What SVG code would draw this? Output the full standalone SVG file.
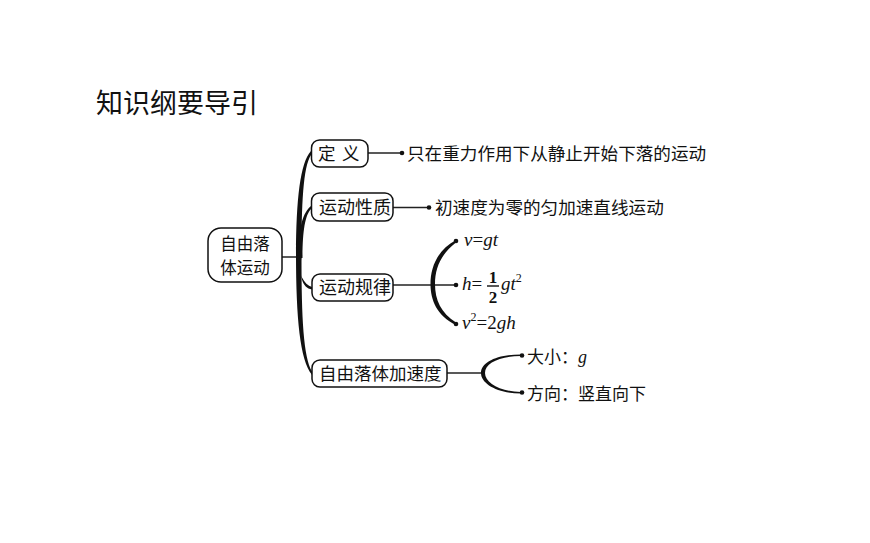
<svg xmlns="http://www.w3.org/2000/svg" width="870" height="543" viewBox="0 0 870 543">
<style>
.box{fill:#fff;stroke:#111;stroke-width:1.5}
.cn{font-family:"Noto Sans CJK SC","Noto Sans",sans-serif;fill:#111}
.m{font-family:"Liberation Serif",serif;font-style:italic;fill:#111}
.up{font-style:normal}
.ln{stroke:#222;stroke-width:1.5;fill:none}
.dot{fill:#111}
.br{fill:#111;stroke:none}
</style>
<rect width="870" height="543" fill="#fff"/>
<text x="96" y="113" class="cn" font-size="27">知识纲要导引</text>

<g id="connectors">
  <line class="ln" x1="282" y1="257" x2="298" y2="257"/>
  <path class="br" d="M296,260 C296,200 300,163 311,151 L311,155 C303,167 301.5,205 301.5,257 Z"/>
  <path class="br" d="M296,254 C296,318 300,360 312,375 L312,371.5 C303.5,357 301.5,318 301.5,257 Z"/>
  <path class="br" d="M298,258 C298,229 303,212 311,206 L311,209 C305,215 302.5,232 302.5,258 Z"/>
  <path class="br" d="M297,256 C298,273 304,285 312,287 L312,289.5 C302,288 299,276 301.5,256 Z"/>
  <line class="ln" x1="368" y1="153" x2="402" y2="153"/>
  <circle class="dot" cx="402" cy="153" r="2.3"/>
  <line class="ln" x1="393" y1="207.5" x2="429" y2="207.5"/>
  <circle class="dot" cx="429" cy="207.5" r="2.3"/>
  <line class="ln" x1="393" y1="285" x2="456" y2="285"/>
  <path class="br" d="M456,240 C437,250 430.5,268 430.5,284 C430.5,300 437,316 456,325 L456,322.5 C441,313 435,300 435,284 C435,268 441,254 456,242.5 Z"/>
  <circle class="dot" cx="456" cy="241" r="2.3"/>
  <circle class="dot" cx="456" cy="285" r="2.3"/>
  <circle class="dot" cx="456" cy="324" r="2.3"/>
  <line class="ln" x1="447" y1="373" x2="482" y2="373"/>
  <path class="br" d="M521,354.5 C498,354.5 481,362 481,373 C481,384 498,393.5 521,393.5 L521,392 C500,391.5 485,383 485,373 C485,363 500,356 521,356 Z"/>
  <circle class="dot" cx="522" cy="355.5" r="2.3"/>
  <circle class="dot" cx="522" cy="392.5" r="2.3"/>
</g>

<g id="root">
  <rect class="box" x="208" y="228" width="74" height="54" rx="13"/>
  <text class="cn" font-size="16.5" x="245" y="250" text-anchor="middle">自由落</text>
  <text class="cn" font-size="16.5" x="245" y="274" text-anchor="middle">体运动</text>
</g>

<g id="n-def">
  <rect class="box" x="311.5" y="140" width="56.5" height="27" rx="8"/>
  <text class="cn" font-size="17.5" y="160"><tspan x="318">定</tspan><tspan x="342">义</tspan></text>
</g>
<g id="def-text">
  <text class="cn" font-size="17.6" x="407" y="160">只在重力作用下从静止开始下落的运动</text>
</g>

<g id="n-nature">
  <rect class="box" x="311.5" y="193" width="81.5" height="28" rx="8"/>
  <text class="cn" font-size="18" x="319" y="214">运动性质</text>
</g>
<g id="nature-text">
  <text class="cn" font-size="17.6" x="435" y="214">初速度为零的匀加速直线运动</text>
</g>

<g id="n-law">
  <rect class="box" x="312" y="274" width="81" height="27" rx="8"/>
  <text class="cn" font-size="18" x="319" y="294">运动规律</text>
</g>
<g id="law-formulas">
  <text class="m" font-size="19" x="464" y="246">v<tspan class="up">=</tspan>gt</text>
  <text class="m" font-size="19" x="462" y="290">h<tspan class="up">=</tspan></text>
  <text class="m up" font-size="17" font-weight="bold" x="493" y="282.5" text-anchor="middle">1</text>
  <line x1="487" y1="286" x2="499" y2="286" stroke="#111" stroke-width="1.4"/>
  <text class="m up" font-size="17" font-weight="bold" x="493" y="302.5" text-anchor="middle">2</text>
  <text class="m" font-size="19" x="501" y="290">gt<tspan font-size="12" dy="-8" class="up">2</tspan></text>
  <text class="m" font-size="19" x="462" y="329">v<tspan font-size="12" dy="-8" class="up">2</tspan><tspan dy="8" class="up">=2</tspan>gh</text>
</g>

<g id="n-acc">
  <rect class="box" x="312" y="360" width="135" height="27" rx="8"/>
  <text class="cn" font-size="17.5" x="319" y="380">自由落体加速度</text>
</g>
<g id="acc-text">
  <text class="cn" font-size="17" x="527" y="363">大小：<tspan class="m" font-size="18">g</tspan></text>
  <text class="cn" font-size="17" x="527" y="400">方向：竖直向下</text>
</g>
</svg>
